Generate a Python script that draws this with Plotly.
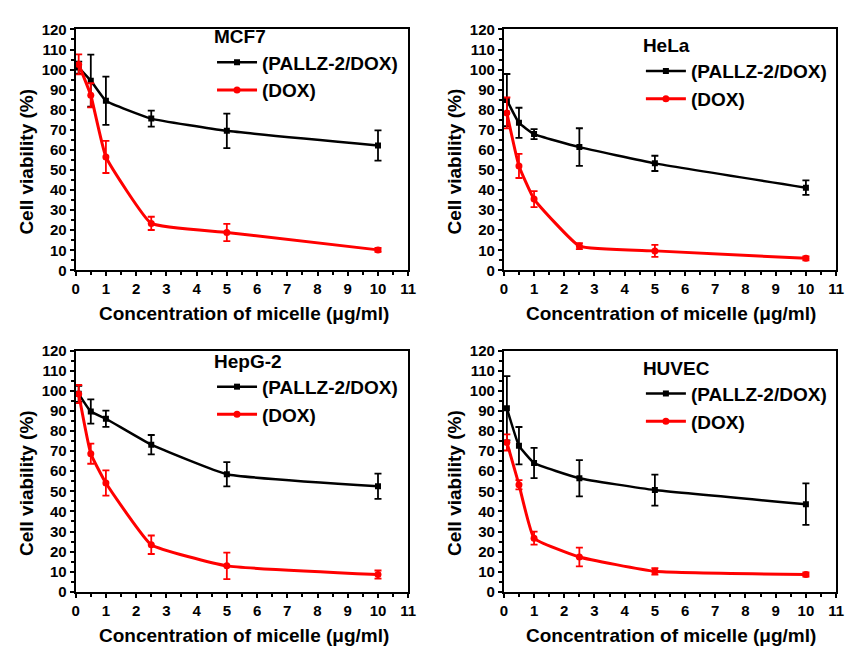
import plotly.graph_objects as go

conc = [0.1, 0.5, 1, 2.5, 5, 10]

cells = ["MCF7", "HeLa", "HepG-2", "HUVEC"]

pallz_mcf7 = [101.0, 94.5, 84.5, 75.6, 69.5, 62.2]
pallz_mcf7_err = [3.0, 13.0, 12.0, 4.0, 8.6, 7.5]
dox_mcf7 = [102.6, 87.2, 56.5, 23.4, 18.9, 10.2]
dox_mcf7_err = [5.0, 6.0, 8.0, 3.3, 4.3, 1.0]

pallz_hela = [84.8, 73.5, 67.9, 61.4, 53.3, 41.2]
pallz_hela_err = [13.0, 7.5, 2.5, 9.4, 3.8, 3.6]
dox_hela = [78.4, 52.0, 35.5, 12.1, 9.7, 6.0]
dox_hela_err = [7.7, 6.0, 4.0, 1.5, 3.0, 1.0]

pallz_hepg2 = [98.5, 89.7, 86.1, 73.2, 58.5, 52.5]
pallz_hepg2_err = [4.0, 6.0, 4.0, 4.8, 6.0, 6.3]
dox_hepg2 = [98.4, 68.7, 54.1, 23.4, 12.9, 8.6]
dox_hepg2_err = [4.5, 5.0, 6.3, 4.6, 6.6, 2.0]

pallz_huvec = [91.3, 72.7, 64.1, 56.5, 50.6, 43.6]
pallz_huvec_err = [16.0, 9.3, 7.5, 9.0, 7.7, 10.3]
dox_huvec = [74.3, 53.3, 26.7, 17.3, 10.2, 8.6]
dox_huvec_err = [4.0, 2.3, 3.2, 4.7, 1.6, 1.0]

series = [
    (pallz_mcf7, pallz_mcf7_err, dox_mcf7, dox_mcf7_err),
    (pallz_hela, pallz_hela_err, dox_hela, dox_hela_err),
    (pallz_hepg2, pallz_hepg2_err, dox_hepg2, dox_hepg2_err),
    (pallz_huvec, pallz_huvec_err, dox_huvec, dox_huvec_err),
]

W, H = 852, 656
FONT = "Liberation Sans, Arial, sans-serif"

# plot frames in pixels: (left, right, top, bottom)
frames = [
    (72.7, 410, 21, 268.3),
    (507, 844, 21, 268.3),
    (72.7, 410, 350.7, 598.3),
    (507, 844, 350.7, 598.3),
]
legend_pos = [(211, 10), (646, 19), (211, 343), (646, 350)]
xtitle_pos = [(243, 313), (677, 313), (243, 643), (677, 643)]
ytitle_pos = [(23, 157), (457, 157), (23, 487), (457, 487)]

fig = go.Figure()
layout = dict(
    width=W, height=H,
    margin=dict(l=0, r=0, t=0, b=0),
    paper_bgcolor="white", plot_bgcolor="white",
    font=dict(family=FONT, color="black", weight="bold"),
    showlegend=True,
    annotations=[],
)

for i, (pv, pe, dv, de) in enumerate(series):
    n = i + 1
    xa = "x" if n == 1 else f"x{n}"
    ya = "y" if n == 1 else f"y{n}"
    lg = "legend" if n == 1 else f"legend{n}"
    fig.add_trace(go.Scatter(
        x=conc, y=pv, xaxis=xa, yaxis=ya, legend=lg,
        name="(PALLZ-2/DOX)", mode="lines+markers",
        line=dict(color="black", width=2.5, shape="spline", smoothing=0.35),
        marker=dict(symbol="square", size=6, color="black"),
        error_y=dict(type="data", array=pe, visible=True, color="black", thickness=1.8, width=3.5),
    ))
    fig.add_trace(go.Scatter(
        x=conc, y=dv, xaxis=xa, yaxis=ya, legend=lg,
        name="(DOX)", mode="lines+markers",
        line=dict(color="red", width=3, shape="spline", smoothing=0.35),
        marker=dict(symbol="circle", size=7, color="red"),
        error_y=dict(type="data", array=de, visible=True, color="red", thickness=1.8, width=3.5),
    ))
    l, r, t, b = frames[i]
    axcommon = dict(
        showline=True, mirror=True, linewidth=2, linecolor="black",
        ticks="outside", ticklen=4, tickwidth=2, tickcolor="black",
        showgrid=False, zeroline=False,
        tickfont=dict(family=FONT, size=15, color="black", weight="bold"),
    )
    xkey = "xaxis" if n == 1 else f"xaxis{n}"
    ykey = "yaxis" if n == 1 else f"yaxis{n}"
    layout[xkey] = dict(
        axcommon, domain=[l / W, r / W], anchor=ya, range=[0, 11],
        tickmode="linear", tick0=0, dtick=1,
        minor=dict(ticks="outside", ticklen=3, tickwidth=2, dtick=0.5, tick0=0, tickcolor="black"),
    )
    layout[ykey] = dict(
        axcommon, domain=[1 - b / H, 1 - t / H], anchor=xa, range=[0, 120],
        tickmode="linear", tick0=0, dtick=10,
        minor=dict(ticks="outside", ticklen=3, tickwidth=2, dtick=5, tick0=0, tickcolor="black"),
    )
    lx, ly = legend_pos[i]
    layout[lg] = dict(
        x=lx / W, y=1 - ly / H, xanchor="left", yanchor="top",
        bgcolor="rgba(0,0,0,0)", borderwidth=0,
        font=dict(family=FONT, size=19, color="black", weight="bold"),
        title=dict(text=cells[i], font=dict(family=FONT, size=19, color="black", weight="bold")),
        tracegroupgap=0, itemwidth=40,
    )
    xt, yt = xtitle_pos[i]
    layout["annotations"].append(dict(
        text="Concentration of micelle (μg/ml)", x=xt / W, y=1 - yt / H,
        xref="paper", yref="paper", showarrow=False, xanchor="center", yanchor="middle",
        font=dict(family=FONT, size=19, color="black", weight="bold"),
    ))
    xt, yt = ytitle_pos[i]
    layout["annotations"].append(dict(
        text="Cell viability (%)", x=xt / W, y=1 - yt / H, textangle=-90,
        xref="paper", yref="paper", showarrow=False, xanchor="center", yanchor="middle",
        font=dict(family=FONT, size=19, color="black", weight="bold"),
    ))

fig.update_layout(**layout)
fig.write_html("out.html")
